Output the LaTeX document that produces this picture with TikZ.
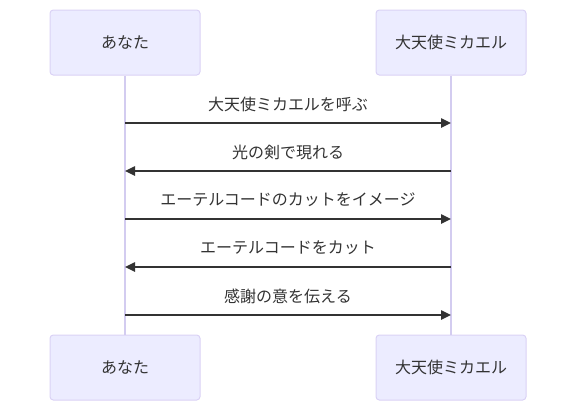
\documentclass[tikz,border=0pt]{standalone}
\usepackage{fontspec}
\newfontfamily\cjk{Noto Sans CJK JP}
\usetikzlibrary{arrows.meta}
\definecolor{boxfill}{HTML}{ECECFF}
\definecolor{boxline}{HTML}{DAD2F5}
\definecolor{lifeline}{HTML}{D3CCF0}
\definecolor{msgline}{HTML}{333333}
\definecolor{txt}{HTML}{333333}
\tikzset{
  actor/.style={draw=boxline, fill=boxfill, rounded corners=2.5pt, line width=0.75pt,
    minimum width=112.5pt, minimum height=48.75pt, inner sep=0pt,
    font=\cjk\fontsize{12}{14}\selectfont, text=txt},
  life/.style={draw=lifeline, line width=0.9pt},
  msg/.style={draw=msgline, line width=1.1pt, -{Triangle[length=7.5pt,width=7pt]}},
  lbl/.style={font=\cjk\fontsize{12}{14}\selectfont, text=txt, inner sep=0pt},
}
\begin{document}
\begin{tikzpicture}[x=0.75pt,y=-0.75pt]
\useasboundingbox (0,0) rectangle (576,411);
\node[actor] (a1) at (125,42.5) {あなた};
\node[actor] (b1) at (451,42.5) {大天使ミカエル};
\node[actor] (a2) at (125,367.5) {あなた};
\node[actor] (b2) at (451,367.5) {大天使ミカエル};
\draw[life] (a1.south) -- (a2.north);
\draw[life] (b1.south) -- (b2.north);
\foreach \y/\d/\t [count=\i] in {123/r/大天使ミカエルを呼ぶ, 171/l/光の剣で現れる, 219/r/エーテルコードのカットをイメージ, 267/l/エーテルコードをカット, 315/r/感謝の意を伝える}{
  \coordinate (L\i) at (125,\y);
  \coordinate (R\i) at (451,\y);
  \node[lbl] (t\i) at (288,\y-19) {\t};
}
\draw[msg] (L1) -- (R1);
\draw[msg] (R2) -- (L2);
\draw[msg] (L3) -- (R3);
\draw[msg] (R4) -- (L4);
\draw[msg] (L5) -- (R5);
\end{tikzpicture}
\end{document}
